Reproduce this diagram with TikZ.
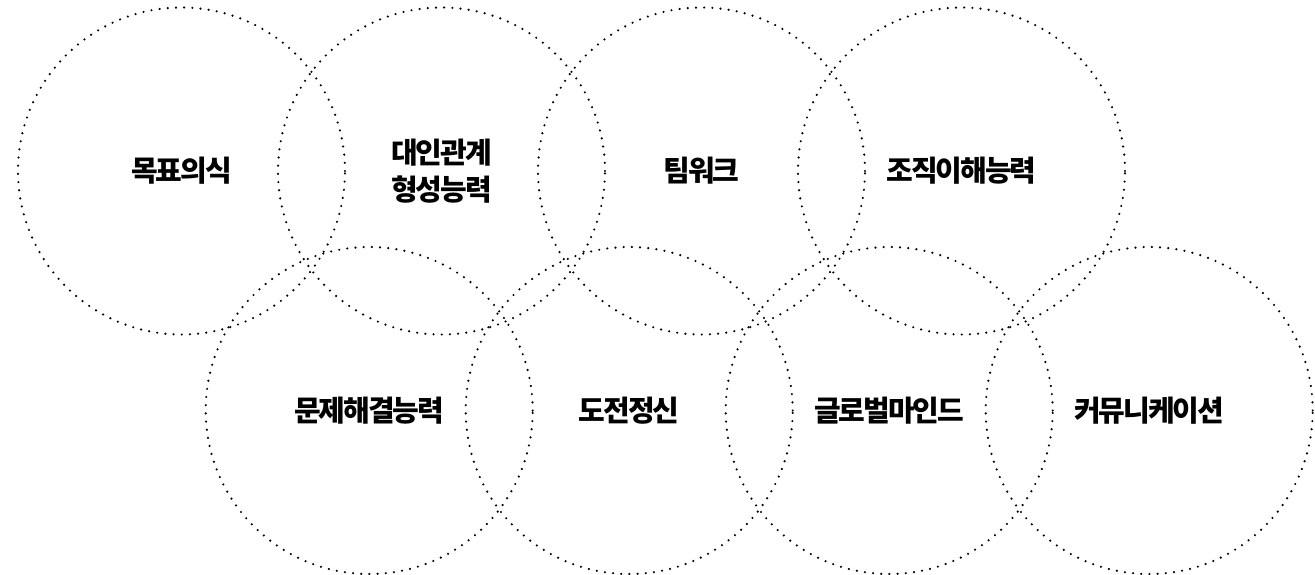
\documentclass[tikz,border=0pt]{standalone}
\usepackage{fontspec}
\setmainfont{Noto Sans CJK KR}[LetterSpace=-7]
\usepackage{tikz}
\usetikzlibrary{positioning}

\begin{document}
\begin{tikzpicture}[
            x = 1pt, y = 1pt,
            node distance = 260pt, % distance between circle centres
            semithick
        ]

        \tikzstyle{ring}=[
            circle,
            draw = black,
            line width = 2.4pt,
            line cap = round,
            dash pattern = on 0pt off 8.2pt,
            minimum size = 327pt,
            inner sep = 0pt,
            outer sep = 0pt,
            align = center,
            font = \fontsize{29}{37}\selectfont\bfseries
        ]

        \useasboundingbox (0,0) rectangle (1315,-574);

% top row
        \node[ring] (C1) at (181.5,-171) {목표의식};
           \node[ring] (C2) [right of = C1] {대인관계\\형성능력};
            \node[ring] (C3) [right of = C2] {팀워크};
             \node[ring] (C4) [right of = C3] {조직이해능력};

% bottom row
        \node[ring] (D1) at (369.2,-410.5) {문제해결능력};
           \node[ring] (D2) [right of = D1] {도전정신};
            \node[ring] (D3) [right of = D2] {글로벌마인드};
             \node[ring] (D4) [right of = D3] {커뮤니케이션};

  \end{tikzpicture}
\end{document}
